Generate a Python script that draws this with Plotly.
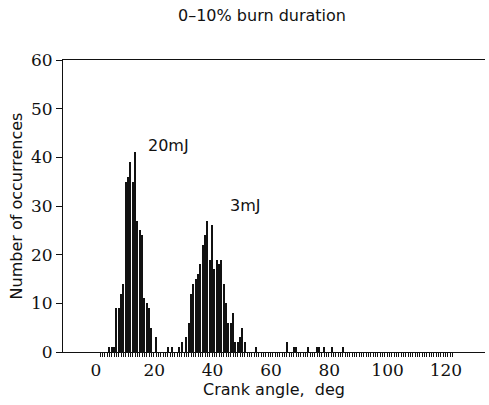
import numpy as np
import plotly.graph_objects as go

# Crank angle (deg) of each non-empty histogram bin and its number of occurrences
angle = [4.6, 5.4, 6.2, 7.0, 7.8, 8.6, 9.4, 10.2, 11.0, 11.8, 12.6, 13.4, 14.2, 15.0, 15.8,
         16.6, 17.4, 18.2, 19.0, 20.6,
         24.6, 26.2, 28.6, 29.4, 31.0, 31.8, 32.6, 33.4, 34.2, 35.0, 35.8, 36.6, 37.4, 38.2,
         39.0, 39.8, 40.6, 41.4, 42.2, 43.0, 43.8, 44.6, 45.4, 46.2, 47.0, 47.8, 48.6, 49.4,
         50.2, 51.0, 55.0,
         65.4, 67.8, 68.6, 72.6, 75.8, 76.6, 78.2, 81.0, 84.6]
count = [1, 1, 1, 9, 9, 12, 14, 35, 36, 39, 35, 41, 27, 25, 24,
         11, 10, 9, 5, 3,
         1, 1, 1, 2, 3, 6, 12, 14, 15, 16, 18, 22, 24, 27,
         19, 26, 17, 19, 18, 19, 14, 10, 6, 6, 8, 2, 2, 3,
         5, 2, 1,
         2, 1, 1, 1, 1, 1, 1, 1, 1]

# Histogram bin positions (marked by small ticks under the axis)
bin_start, bin_width, bin_end = 1.4, 0.8, 123.0
bins = [round(float(b), 2) for b in np.arange(bin_start, bin_end, bin_width)]

x_ticks = [0, 20, 40, 60, 80, 100, 120]
y_ticks = [0, 10, 20, 30, 40, 50, 60]

labels = ["20mJ", "3mJ"]
label_x = [24.8, 51.1]
label_y = [42.5, 30.2]

ink = "#111111"
sans = "DejaVu Sans"
serif = "DejaVu Serif"

fig = go.Figure()
fig.add_trace(go.Bar(
    x=angle, y=count, width=0.32,
    marker=dict(color=ink, line=dict(width=0)), showlegend=False))

for t, lx, ly in zip(labels, label_x, label_y):
    fig.add_annotation(x=lx, y=ly, text=t, showarrow=False,
                       font=dict(family=sans, size=16, color=ink),
                       xanchor="center", yanchor="middle")

fig.update_layout(
    width=489, height=405,
    margin=dict(l=63, r=4, t=60, b=53, autoexpand=False),
    paper_bgcolor="white", plot_bgcolor="white",
    bargap=0,
    title=dict(text="0\u201310% burn duration", x=262 / 489, xref="container",
               xanchor="center", y=1 - 15 / 405, yref="container", yanchor="middle",
               font=dict(family=sans, size=16, color=ink)),
    xaxis=dict(range=[-11.3, 133.4], tickmode="array", tickvals=x_ticks, ticks="outside",
               ticklen=0, ticklabelstandoff=3,
               minor=dict(tickmode="array", tickvals=bins, ticks="outside", ticklen=4,
                          tickwidth=1, tickcolor=ink, showgrid=False),
               showgrid=False, zeroline=False, showline=True, linecolor=ink, linewidth=1,
               mirror=True, automargin=False,
               tickfont=dict(family=serif, size=17, color=ink),
               title=dict(text="Crank angle,\u00a0 deg", standoff=2,
                          font=dict(family=sans, size=16, color=ink))),
    yaxis=dict(range=[0, 60], tickvals=y_ticks, ticks="outside", ticklen=6, tickcolor=ink,
               ticklabelstandoff=0,
               showgrid=False, zeroline=False, showline=True, linecolor=ink, linewidth=1,
               mirror=False, automargin=False,
               tickfont=dict(family=serif, size=17, color=ink),
               title=dict(text="Number of occurrences", standoff=4,
                          font=dict(family=sans, size=16, color=ink))),
)

fig.write_html("out.html", config={"displayModeBar": False},
               post_script="document.body.style.margin='0px';")
